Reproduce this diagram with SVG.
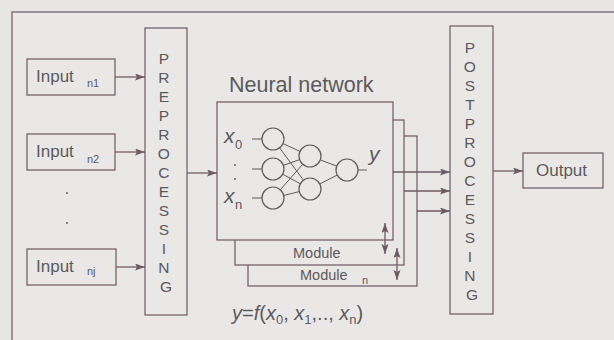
<svg xmlns="http://www.w3.org/2000/svg" width="614" height="340" viewBox="0 0 614 340">
  <defs>
    <marker id="arrow" markerWidth="11" markerHeight="8" refX="10" refY="3.5" orient="auto-start-reverse" markerUnits="userSpaceOnUse">
      <path d="M0,0 L10,3.5 L0,7 L2,3.5 z" fill="#6e5a65"/>
    </marker>
    <style>
      .box { fill: none; stroke: #75646d; stroke-width: 1.3; }
      .panel { fill: #eae8e7; stroke: #75646d; stroke-width: 1.3; }
      .arr { fill: none; stroke: #6e5a65; stroke-width: 1.3; marker-end: url(#arrow); }
      .dbl { fill: none; stroke: #6e5a65; stroke-width: 1.3; marker-start: url(#arrow); marker-end: url(#arrow); }
      .node { fill: #eae8e7; stroke: #5f5a5c; stroke-width: 1.2; }
      .syn { stroke: #5f5a5c; stroke-width: 1; }
      text { font-family: "Liberation Sans", Arial, Helvetica, sans-serif; fill: #5c5a5b; }
      .lbl { font-size: 17px; }
      .sub { font-size: 11px; }
      .var { font-size: 21px; font-style: italic; }
      .vsub { font-size: 13px; }
      .vert { font-size: 15.5px; text-anchor: middle; }
      .it { font-style: italic; }
    </style>
  </defs>

  <!-- page -->
  <rect x="0" y="0" width="614" height="340" fill="#e8e6e5"/>
  <rect x="12" y="12" width="620" height="340" fill="#eae8e7" stroke="#75646d" stroke-width="1.3"/>

  <!-- inputs -->
  <g id="input-n1">
    <rect class="box" x="27" y="59" width="88" height="36"/>
    <text class="lbl" x="36" y="82">Input</text>
    <text class="sub" x="87" y="87">n1</text>
  </g>
  <g id="input-n2">
    <rect class="box" x="27" y="134" width="88" height="36"/>
    <text class="lbl" x="36" y="157">Input</text>
    <text class="sub" x="87" y="163">n2</text>
  </g>
  <g id="input-dots">
    <circle cx="67" cy="193" r="1" fill="#6a6668"/>
    <circle cx="67" cy="223" r="1" fill="#6a6668"/>
  </g>
  <g id="input-nj">
    <rect class="box" x="27" y="249" width="89" height="36"/>
    <text class="lbl" x="36" y="272">Input</text>
    <text class="sub" x="87" y="275">nj</text>
  </g>

  <!-- preprocessing -->
  <g id="preprocessing">
    <rect class="box" x="145" y="28" width="42" height="287"/>
    <text class="vert" x="166">
      <tspan x="166" y="64">P</tspan>
      <tspan x="166" y="83">R</tspan>
      <tspan x="166" y="102">E</tspan>
      <tspan x="166" y="121">P</tspan>
      <tspan x="166" y="140">R</tspan>
      <tspan x="166" y="159">O</tspan>
      <tspan x="166" y="178">C</tspan>
      <tspan x="166" y="197">E</tspan>
      <tspan x="166" y="216">S</tspan>
      <tspan x="166" y="235">S</tspan>
      <tspan x="166" y="254">I</tspan>
      <tspan x="166" y="273">N</tspan>
      <tspan x="166" y="292">G</tspan>
    </text>
  </g>

  <!-- stacked modules, back to front -->
  <g id="module-n">
    <rect class="panel" x="248" y="136" width="169" height="150"/>
    <text x="300" y="280" style="font-size:14.5px">Module</text>
    <text class="sub" x="362" y="284">n</text>
  </g>
  <g id="module">
    <rect class="panel" x="235" y="120" width="169" height="145"/>
    <text x="293" y="258" style="font-size:14.5px">Module</text>
  </g>

  <!-- neural network -->
  <g id="neural-network">
    <text x="229" y="92" style="font-size:21.5px">Neural network</text>
    <rect class="panel" x="217" y="102" width="176" height="138"/>
    <!-- synapses -->
    <g class="syn">
      <line x1="273" y1="139" x2="310" y2="156"/>
      <line x1="273" y1="139" x2="310" y2="189"/>
      <line x1="273" y1="169" x2="310" y2="156"/>
      <line x1="273" y1="169" x2="310" y2="189"/>
      <line x1="273" y1="198" x2="310" y2="156"/>
      <line x1="273" y1="198" x2="310" y2="189"/>
      <line x1="310" y1="156" x2="347" y2="170"/>
      <line x1="310" y1="189" x2="347" y2="170"/>
      <line x1="252" y1="139" x2="262" y2="139"/>
      <line x1="252" y1="169" x2="262" y2="169"/>
      <line x1="252" y1="198" x2="262" y2="198"/>
      <line x1="358" y1="170" x2="367" y2="170"/>
    </g>
    <!-- neurons -->
    <circle class="node" cx="273" cy="139" r="11"/>
    <circle class="node" cx="273" cy="169" r="11"/>
    <circle class="node" cx="273" cy="198" r="11"/>
    <circle class="node" cx="310" cy="156" r="11"/>
    <circle class="node" cx="310" cy="189" r="11"/>
    <circle class="node" cx="347" cy="170" r="11"/>
    <!-- labels -->
    <text class="var" x="224" y="143">x</text>
    <text class="vsub" x="235" y="149">0</text>
    <circle cx="235" cy="165" r="0.9" fill="#5c5a5b"/>
    <circle cx="235" cy="179" r="0.9" fill="#5c5a5b"/>
    <text class="var" x="224" y="203">x</text>
    <text class="vsub" x="235" y="209">n</text>
    <text class="var" x="369" y="161">y</text>
  </g>

  <!-- postprocessing -->
  <g id="postprocessing">
    <rect class="box" x="450" y="26" width="43" height="288"/>
    <text class="vert" x="472">
      <tspan x="472" y="53">P</tspan>
      <tspan x="472" y="72">O</tspan>
      <tspan x="472" y="91">S</tspan>
      <tspan x="472" y="110">T</tspan>
      <tspan x="472" y="129">P</tspan>
      <tspan x="472" y="148">R</tspan>
      <tspan x="472" y="167">O</tspan>
      <tspan x="472" y="186">C</tspan>
      <tspan x="472" y="205">E</tspan>
      <tspan x="472" y="224">S</tspan>
      <tspan x="472" y="243">S</tspan>
      <tspan x="472" y="262">I</tspan>
      <tspan x="472" y="281">N</tspan>
      <tspan x="472" y="300">G</tspan>
    </text>
  </g>

  <!-- output -->
  <g id="output">
    <rect class="box" x="523" y="153" width="80" height="35"/>
    <text class="lbl" x="536" y="176">Output</text>
  </g>

  <!-- formula -->
  <g id="formula">
    <text x="232" y="320" style="font-size:20px"><tspan class="it">y</tspan>=<tspan class="it">f</tspan>(<tspan class="it">x</tspan><tspan style="font-size:13px" dy="4">0</tspan><tspan dy="-4">, </tspan><tspan class="it">x</tspan><tspan style="font-size:13px" dy="4">1</tspan><tspan dy="-4">,.., </tspan><tspan class="it">x</tspan><tspan style="font-size:13px" dy="4">n</tspan><tspan dy="-4">)</tspan></text>
  </g>

  <!-- connectors -->
  <g id="connectors">
    <line class="arr" x1="115" y1="77" x2="145" y2="77"/>
    <line class="arr" x1="115" y1="152" x2="145" y2="152"/>
    <line class="arr" x1="116" y1="267" x2="145" y2="267"/>
    <line class="arr" x1="187" y1="173" x2="217" y2="173"/>
    <line class="arr" x1="393" y1="172" x2="450" y2="172"/>
    <line class="arr" x1="404" y1="191" x2="450" y2="191"/>
    <line class="arr" x1="417" y1="211" x2="450" y2="211"/>
    <line class="arr" x1="493" y1="171" x2="523" y2="171"/>
    <line class="dbl" x1="385" y1="223" x2="385" y2="254"/>
    <line class="dbl" x1="397" y1="248" x2="397" y2="280"/>
  </g>
</svg>
